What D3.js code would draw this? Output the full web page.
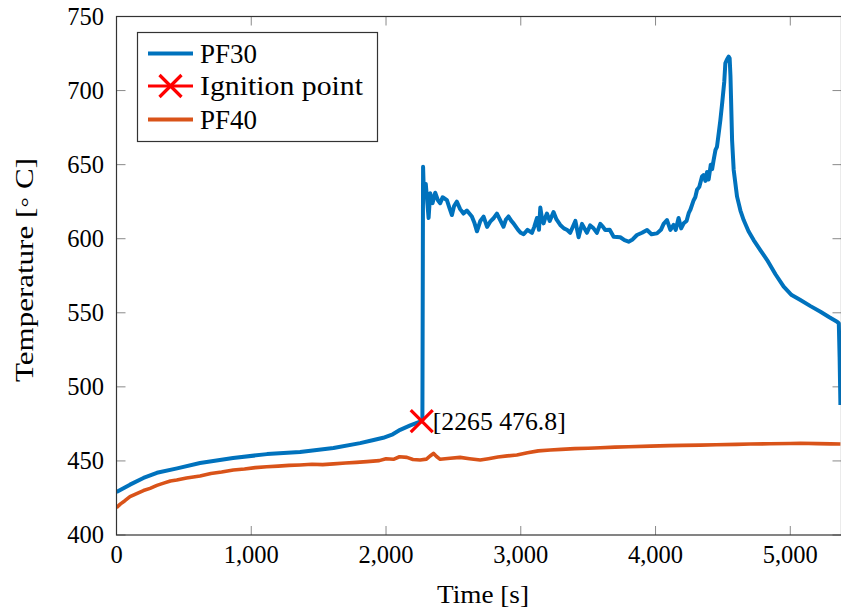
<!DOCTYPE html>
<html><head><meta charset="utf-8">
<script src="https://cdn.jsdelivr.net/npm/d3@7"></script>
<style>body{margin:0;background:#fff}</style>
</head><body><svg id="c" width="841" height="611"></svg>
<script>
const pf30Time=[0,100,200,300,450,620,865,1117,1362,1610,1808,1900,1979,2050,2105,2180,2253,2265,2270,2275,2282,2295,2316,2328,2345,2365,2385,2402,2420,2452,2470,2489,2505,2526,2550,2575,2600,2637,2655,2675,2700,2724,2750,2773,2800,2823,2850,2872,2890,2909,2930,2946,2980,3000,3021,3050,3083,3100,3120,3135,3145,3160,3169,3185,3194,3215,3243,3265,3293,3320,3345,3367,3405,3429,3454,3491,3515,3540,3565,3590,3610,3627,3660,3689,3738,3770,3800,3830,3862,3900,3937,3970,4011,4040,4060,4085,4110,4134,4150,4171,4190,4209,4230,4246,4258,4283,4295,4308,4325,4345,4357,4370,4382,4394,4410,4420,4431,4445,4456,4470,4481,4495,4510,4518,4530,4543,4550,4556,4560,4568,4580,4605,4630,4654,4690,4728,4780,4828,4890,4951,5010,5075,5150,5224,5290,5347,5360,5366,5372];
const pf30Temp=[429,434,438.5,442,445,448.6,452,454.6,456,458.7,462,464,465.6,468,471,474,476.5,476.8,477.5,648.6,628,637,614,630.7,624,631,626,624,628,626,621,616,622,625,620,617,619,615,611,605,612,614.9,608,611.5,614,617,612,608.1,613,615,612,610.4,606,604,603,606,604,608,614,606,621,612,610.4,615,617,612,618,613,609.3,607,605.9,604,612,601,610,604,609,607,604,610,608,605.9,606,601.4,601,599,598,599.5,602.5,604,605.9,603,603.6,606,610,612.6,606,609.3,606,614,607,610.4,612,617.2,619.4,626,628,633,635,642,643,639,645,640,650,647,653,660,662,672,680,692,706,718.4,721,722.9,721.8,710,695.9,666.6,646.4,628.4,619,612.6,605,599.1,592,585.6,576,567.6,562,558.6,554.5,550.7,547,544,542.9,520,487.8];
const pf40Time=[0,30,60,100,150,200,249,300,350,400,447,520,620,700,780,867,950,1030,1115,1200,1280,1362,1450,1530,1610,1700,1780,1858,1950,2000,2055,2100,2155,2200,2253,2300,2330,2352,2375,2402,2476,2550,2620,2699,2760,2830,2900,2971,3050,3130,3219,3300,3400,3500,3590,3700,3800,3961,4100,4200,4332,4450,4600,4703,4850,5000,5075,5200,5300,5372];
const pf40Temp=[418.5,421,423,425.9,428,430,431.5,433.5,435,436.5,437.1,438.5,439.8,441.5,442.5,443.9,444.5,445.5,446.1,446.5,447,447.3,447.8,447.5,448,448.6,449,449.5,450.2,451.5,451.1,452.8,452.4,451,450.6,451.2,453.5,455.1,453,451.1,451.8,452.4,451.5,450.6,451.5,452.6,453.4,454,455.5,456.8,457.4,457.8,458.3,458.6,458.9,459.3,459.6,460,460.3,460.5,460.7,460.9,461.2,461.4,461.6,461.8,461.9,461.7,461.5,461.4];
const ignition=[2265,476.8];
const xTicks=[0,1000,2000,3000,4000,5000];
const yTicks=[400,450,500,550,600,650,700,750];
const seriesNames=["PF30","Ignition point","PF40"];

const FONT="Liberation Serif";
const svg=d3.select("#c");
const L=116.5,R=841.5,T=16.5,B=535;
const x=d3.scaleLinear().domain([0,5380]).range([L,R]);
const y=d3.scaleLinear().domain([400,750]).range([B,T]);
const tl=9, tickCol="#8a8a8a";
const fmt=d3.format(",");
function txt(sel,size){return sel.append("text").style("font-family",`"${FONT}"`).style("font-size",size+"px");}

svg.append("defs").append("clipPath").attr("id","clip").append("rect").attr("x",L).attr("y",T).attr("width",R-L).attr("height",B-T);

const g=svg.append("g");
xTicks.forEach(v=>{
  g.append("line").attr("x1",x(v)).attr("x2",x(v)).attr("y1",B).attr("y2",B-tl).attr("stroke",tickCol);
  g.append("line").attr("x1",x(v)).attr("x2",x(v)).attr("y1",T).attr("y2",T+tl).attr("stroke",tickCol);
  txt(g,24.5).attr("x",x(v)).attr("y",563).attr("text-anchor","middle").text(fmt(v));
});
yTicks.forEach(v=>{
  g.append("line").attr("x1",L).attr("x2",L+tl).attr("y1",y(v)).attr("y2",y(v)).attr("stroke",tickCol);
  g.append("line").attr("x1",R).attr("x2",R-tl).attr("y1",y(v)).attr("y2",y(v)).attr("stroke",tickCol);
  txt(g,24.5).attr("x",104).attr("y",y(v)+8.3).attr("text-anchor","end").text(v);
});

const line=d3.line().x(d=>x(d[0])).y(d=>y(d[1]));
const plot=svg.append("g").attr("clip-path","url(#clip)");
plot.append("path").datum(pf40Time.map((t,i)=>[t,pf40Temp[i]])).attr("d",line).attr("fill","none").attr("stroke","#D95319").attr("stroke-width",3.6).attr("stroke-linejoin","round");
plot.append("path").datum(pf30Time.map((t,i)=>[t,pf30Temp[i]])).attr("d",line).attr("fill","none").attr("stroke","#0072BD").attr("stroke-width",4).attr("stroke-linejoin","round");

function cross(sel,cx,cy,s){
  sel.append("path").attr("d",`M${cx-s},${cy-s}L${cx+s},${cy+s}M${cx-s},${cy+s}L${cx+s},${cy-s}`).attr("stroke","#FF0000").attr("stroke-width",3.2).attr("fill","none");
}
cross(svg,x(ignition[0]),y(ignition[1]),11);
txt(svg,26).attr("x",x(ignition[0])+11).attr("y",y(ignition[1])+9)
  .attr("textLength",133).attr("lengthAdjust","spacingAndGlyphs").text(`[${ignition[0]} ${ignition[1]}]`);

svg.append("rect").attr("x",L).attr("y",T).attr("width",R-L).attr("height",B-T).attr("fill","none").attr("stroke","#333").attr("stroke-width",1.2);

txt(svg,26).attr("x",437).attr("y",603).attr("textLength",92).attr("lengthAdjust","spacingAndGlyphs").text("Time [s]");
txt(svg,26).attr("transform",`translate(33,382) rotate(-90)`).attr("textLength",224).attr("lengthAdjust","spacingAndGlyphs").text("Temperature [◦ C]");

const lg=svg.append("g");
lg.append("rect").attr("x",137.5).attr("y",32.5).attr("width",240).attr("height",109).attr("fill","#fff").attr("stroke","#333").attr("stroke-width",1.2);
const ly=[53.5,86,119.5];
const lw=[57,163,57];
const lcol=["#0072BD",null,"#D95319"];
seriesNames.forEach((n,i)=>{
  if(lcol[i]) lg.append("line").attr("x1",148).attr("x2",193).attr("y1",ly[i]).attr("y2",ly[i]).attr("stroke",lcol[i]).attr("stroke-width",3.8);
  else { lg.append("line").attr("x1",148).attr("x2",193).attr("y1",ly[i]).attr("y2",ly[i]).attr("stroke","#FF0000").attr("stroke-width",3.2); cross(lg,170.5,ly[i],11); }
  txt(lg,27.5).attr("x",200).attr("y",ly[i]+9.2).attr("textLength",lw[i]).attr("lengthAdjust","spacingAndGlyphs").text(n);
});
</script></body></html>
